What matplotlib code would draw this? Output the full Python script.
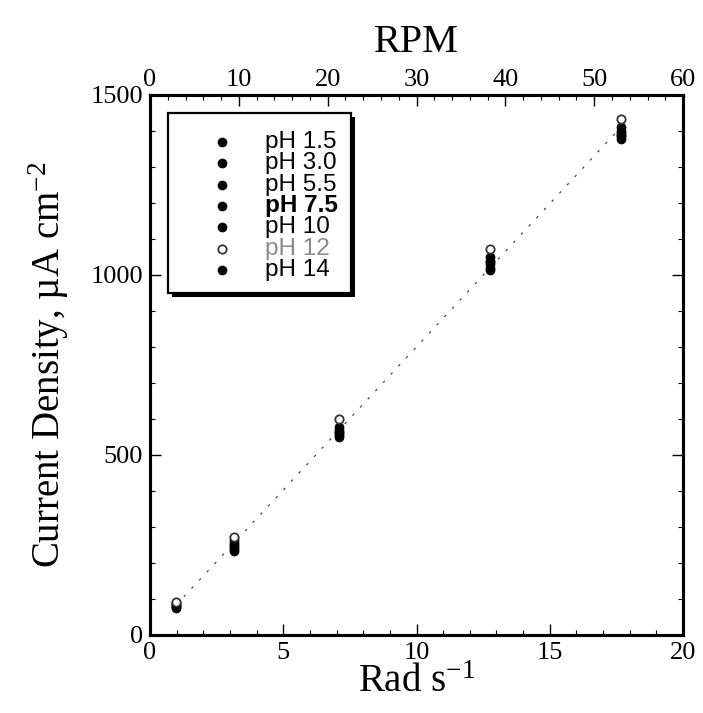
import numpy as np
import matplotlib
matplotlib.use("Agg")
import matplotlib.pyplot as plt
from matplotlib.ticker import MultipleLocator
from matplotlib.patches import Rectangle
from matplotlib.lines import Line2D

plt.rcParams["mathtext.fontset"] = "custom"
plt.rcParams["mathtext.rm"] = "Liberation Serif"
plt.rcParams["mathtext.it"] = "Liberation Serif:italic"
plt.rcParams["mathtext.default"] = "rm"

# Rotation rate (rad/s) for each measurement set
rad_s = [0.98, 3.16, 7.08, 12.77, 17.66]

# Current density (uA cm^-2) per pH
series_labels = ["pH 1.5", "pH 3.0", "pH 5.5", "pH 7.5", "pH 10", "pH 12", "pH 14"]
cd_ph1_5 = [85, 255, 570, 1040, 1400]
cd_ph3_0 = [80, 245, 560, 1030, 1390]
cd_ph5_5 = [88, 265, 578, 1050, 1410]
cd_ph7_5 = [78, 240, 555, 1020, 1385]
cd_ph10 = [75, 233, 550, 1014, 1378]
cd_ph12 = [92, 272, 600, 1072, 1433]
cd_ph14 = [82, 250, 565, 1035, 1395]

bottom_ticks = [0, 5, 10, 15, 20]
left_ticks = [0, 500, 1000, 1500]
top_ticks = [0, 10, 20, 30, 40, 50, 60]

all_series = [cd_ph1_5, cd_ph3_0, cd_ph5_5, cd_ph7_5, cd_ph10, cd_ph12, cd_ph14]

serif = ["Liberation Serif", "DejaVu Serif"]
sans = ["Liberation Sans", "DejaVu Sans"]

fig = plt.figure(figsize=(7.03, 7.13), dpi=100)
ax = fig.add_axes([0.2134, 0.1094, 0.7582, 0.7574])

# least-squares line through all points
x_all = np.concatenate([rad_s for _ in all_series])
y_all = np.concatenate(all_series)
slope, icpt = np.polyfit(x_all, y_all, 1)
xl = np.array([rad_s[0], rad_s[-1]])
ax.plot(xl, icpt + slope * xl, linestyle=(0, (2, 7)), color="#444444", lw=0.9, zorder=1)

styles = []
for lab, vals in zip(series_labels, all_series):
    if lab == "pH 12":
        kw = dict(marker="o", ms=6, mfc="white", mec="#333333", mew=1.3, zorder=3)
    else:
        kw = dict(marker="o", ms=6.5, mfc="black", mec="black", mew=0.5, zorder=2)
    ax.plot(rad_s, vals, linestyle="none", **kw)
    styles.append(kw)

ax.set_xlim(0, 20)
ax.set_ylim(0, 1500)
ax.set_xticks(bottom_ticks)
ax.set_yticks(left_ticks)
ax.xaxis.set_minor_locator(MultipleLocator(1))
ax.yaxis.set_minor_locator(MultipleLocator(100))
ax.tick_params(which="both", direction="in", top=False, right=True)
ax.tick_params(which="major", length=8, width=1.0, labelsize=19, pad=5)
ax.tick_params(which="minor", length=3.5, width=0.8)
for lbl in ax.get_xticklabels() + ax.get_yticklabels():
    lbl.set_family(serif)
for sp in ax.spines.values():
    sp.set_linewidth(2.2)

ax.set_xlabel("Rad s$^{-1}$", fontsize=28, family=serif, labelpad=0)
ax.set_ylabel("Current Density, \u00b5A cm$^{-2}$", fontsize=28, family=serif, labelpad=14)

# RPM scale along the top
ax2 = ax.twiny()
ax2.set_xlim(0, 60)
ax2.set_xticks(top_ticks)
ax2.xaxis.set_minor_locator(MultipleLocator(2))
ax2.tick_params(which="both", direction="in")
ax2.tick_params(which="major", length=8, width=1.0, labelsize=19, pad=3)
ax2.tick_params(which="minor", length=3.5, width=0.8)
for lbl in ax2.get_xticklabels():
    lbl.set_family(serif)
ax2.set_xlabel("RPM", fontsize=29, family=serif, labelpad=12)
for sp in ax2.spines.values():
    sp.set_linewidth(2.2)

# legend box with drop shadow
box_x0, box_y0, box_w, box_h = 0.034, 0.633, 0.343, 0.334
ax.add_patch(Rectangle((box_x0 + 0.008, box_y0 - 0.008), box_w, box_h, transform=ax.transAxes,
                       facecolor="black", edgecolor="none", zorder=5))
ax.add_patch(Rectangle((box_x0, box_y0), box_w, box_h, transform=ax.transAxes,
                       facecolor="white", edgecolor="black", lw=1.6, zorder=6))
row0, row_step = 0.913, 0.0395
for i, (lab, kw) in enumerate(zip(series_labels, styles)):
    yy = row0 - i * row_step
    ax.add_line(Line2D([0.135], [yy], transform=ax.transAxes, linestyle="none",
                       **{**kw, "zorder": 7}))
    t = ax.text(0.216, yy, lab, transform=ax.transAxes, fontsize=17.5, family=sans,
                va="center", ha="left", zorder=7)
    if lab == "pH 12":
        t.set_color("#8a8a8a")
    if lab == "pH 7.5":
        t.set_fontweight("bold")

fig.savefig("out.png", dpi=100)
